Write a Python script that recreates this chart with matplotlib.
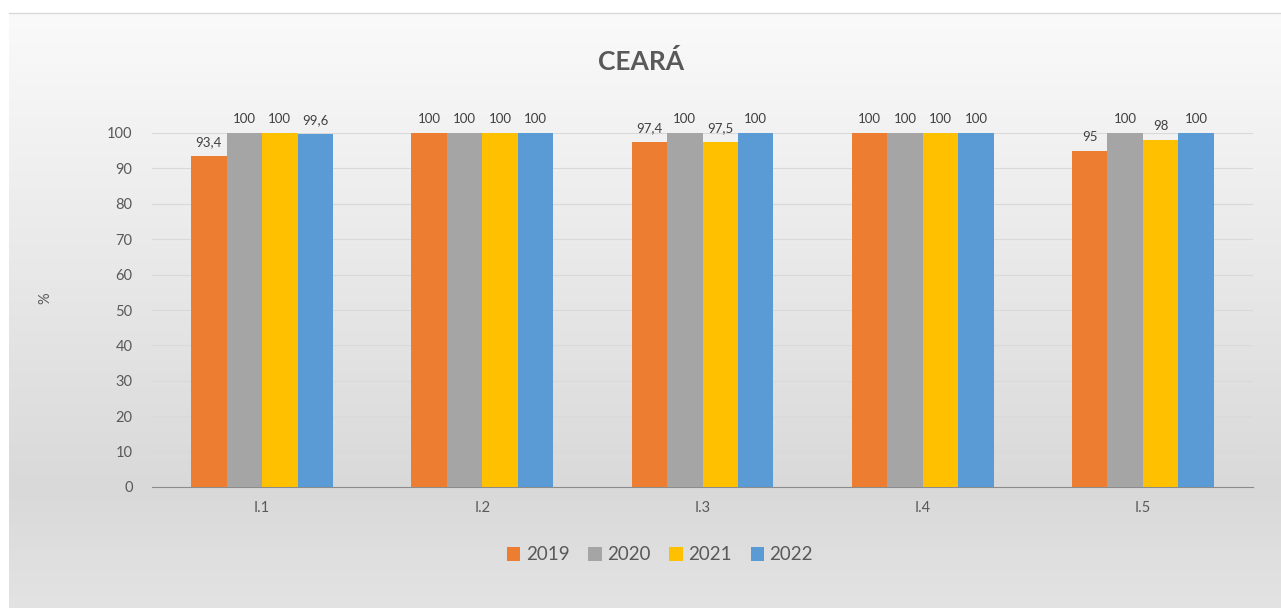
import numpy as np
import matplotlib
matplotlib.use("Agg")
import matplotlib.pyplot as plt
from matplotlib.colors import LinearSegmentedColormap

plt.rcParams["font.family"] = ["Lato", "DejaVu Sans"]

categories = ["I.1", "I.2", "I.3", "I.4", "I.5"]
years = ["2019", "2020", "2021", "2022"]
v2019 = [93.4, 100, 97.4, 100, 95]
v2020 = [100, 100, 100, 100, 100]
v2021 = [100, 100, 97.5, 100, 98]
v2022 = [99.6, 100, 100, 100, 100]
colors = ["#ED7D31", "#A5A5A5", "#FFC000", "#5B9BD5"]

W, H = 1281, 608
fig = plt.figure(figsize=(W / 100, H / 100), dpi=100)
fig.patch.set_facecolor("white")

# gradient background of the chart frame
bg = fig.add_axes([9 / W, 0, 1 - 9 / W, 1 - 13 / H], zorder=0)
grad = LinearSegmentedColormap.from_list(
    "bg", [(0, "#fafafa"), (0.8, "#d9d9d9"), (1, "#e3e3e3")])
bg.imshow(np.linspace(0, 1, 256)[:, None], aspect="auto", cmap=grad,
          extent=[0, 1, 0, 1])
bg.set_axis_off()
fig.add_artist(plt.Line2D([9 / W, 1], [1 - 13 / H] * 2, color="#d9d9d9",
                          lw=1, transform=fig.transFigure))

ax = fig.add_axes([152 / W, 1 - 487 / H, (1253 - 152) / W, (487 - 133) / H],
                  zorder=1)
ax.set_facecolor("none")

x = np.arange(len(categories))
w = 0.161
series = [v2019, v2020, v2021, v2022]
for i, (vals, c, yr) in enumerate(zip(series, colors, years)):
    pos = x + (i - 1.5) * w
    ax.bar(pos, vals, width=w, color=c, label=yr, zorder=3)
    for px, v in zip(pos, vals):
        lbl = f"{v:g}".replace(".", ",")
        ax.text(px, v + 2.2, lbl, ha="center", va="bottom", fontsize=9.5,
                color="#404040", zorder=4)

ax.set_xlim(-0.5, 4.5)
ax.set_ylim(0, 100)
ax.set_yticks(range(0, 101, 10))
ax.set_xticks(x)
ax.set_xticklabels(categories)
ax.grid(axis="y", color="#d9d9d9", lw=0.8, zorder=0)
for s in ["top", "right", "left"]:
    ax.spines[s].set_visible(False)
ax.spines["bottom"].set_color("#8c8c8c")
ax.tick_params(axis="both", length=0, labelsize=10.5, labelcolor="#595959")
ax.tick_params(axis="y", pad=14)
ax.tick_params(axis="x", pad=10)

fig.text(45 / W, 1 - 298 / H, "%", ha="center", va="center",
         rotation=90, fontsize=10.5, color="#595959")
fig.text(641 / W, 1 - 62 / H, "CEARÁ", ha="center", va="center",
         fontsize=19, fontweight="bold", color="#595959")

fig.legend(loc="center", bbox_to_anchor=(660 / W, 1 - 555 / H), ncol=4,
           frameon=False, fontsize=13.5, labelcolor="#595959",
           handlelength=0.7, handleheight=0.7, handletextpad=0.3,
           columnspacing=1.0)

fig.savefig("out.png", dpi=100)
